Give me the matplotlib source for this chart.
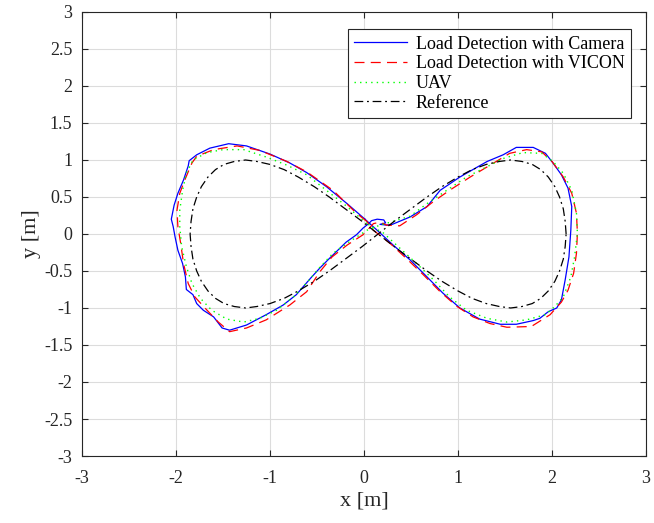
import matplotlib
matplotlib.use("Agg")
import matplotlib.pyplot as plt

plt.rcParams['font.family'] = ['Liberation Serif', 'DejaVu Serif']

# load position estimated from the camera
cam_x = [0.01, -0.18, -0.40, -0.61, -0.79, -1.00, -1.25, -1.44, -1.64, -1.78,
         -1.86, -1.87, -1.92, -1.98, -2.02, -2.05, -2.03, -2.01, -1.98, -1.93,
         -1.90, -1.89, -1.82, -1.78, -1.71, -1.60, -1.51, -1.43, -1.25, -1.04,
         -0.86, -0.72, -0.57, -0.47, -0.36, -0.19, -0.08, -0.01, 0.05, 0.08,
         0.14, 0.21, 0.23, 0.17, 0.24, 0.30, 0.49, 0.67, 0.81, 1.02,
         1.31, 1.48, 1.62, 1.80, 1.93, 2.01, 2.10, 2.17, 2.21, 2.20,
         2.18, 2.14, 2.10, 2.05, 1.96, 1.87, 1.80, 1.62, 1.45, 1.23,
         1.02, 0.84, 0.67, 0.49, 0.31, 0.14, 0.01]
cam_y = [0.20, 0.41, 0.64, 0.83, 0.96, 1.08, 1.19, 1.22, 1.16, 1.07,
         0.99, 0.92, 0.73, 0.55, 0.39, 0.20, 0.10, -0.04, -0.22, -0.40,
         -0.58, -0.75, -0.82, -0.94, -1.03, -1.12, -1.27, -1.30, -1.23, -1.09,
         -0.96, -0.82, -0.60, -0.46, -0.32, -0.11, -0.01, 0.08, 0.14, 0.18,
         0.20, 0.19, 0.15, 0.13, 0.12, 0.13, 0.23, 0.37, 0.59, 0.77,
         0.98, 1.07, 1.17, 1.17, 1.09, 0.96, 0.80, 0.62, 0.37, 0.05,
         -0.31, -0.62, -0.89, -1.00, -1.05, -1.14, -1.17, -1.22, -1.22, -1.15,
         -1.00, -0.80, -0.58, -0.35, -0.15, 0.05, 0.20]

# load position from VICON
vic_x = [0.03, -0.08, -0.33, -0.61, -0.82, -1.11, -1.35, -1.60, -1.78, -1.83,
         -1.90, -1.96, -1.99, -1.98, -1.95, -1.92, -1.87, -1.80, -1.67, -1.55,
         -1.43, -1.25, -1.04, -0.79, -0.61, -0.47, -0.34, -0.18, -0.01, 0.10,
         0.17, 0.24, 0.38, 0.56, 0.74, 0.91, 1.13, 1.38, 1.55, 1.73,
         1.89, 2.00, 2.12, 2.21, 2.26, 2.27, 2.26, 2.23, 2.17, 2.10,
         1.98, 1.78, 1.52, 1.34, 1.16, 0.99, 0.81, 0.63, 0.45, 0.28,
         0.10, 0.03]
vic_y = [0.17, 0.28, 0.59, 0.84, 0.98, 1.13, 1.19, 1.14, 1.05, 0.96,
         0.75, 0.55, 0.32, 0.10, -0.13, -0.40, -0.67, -0.85, -1.03, -1.19,
         -1.32, -1.27, -1.16, -0.96, -0.78, -0.51, -0.31, -0.15, -0.01, 0.14,
         0.16, 0.12, 0.11, 0.26, 0.44, 0.59, 0.77, 0.96, 1.09, 1.14,
         1.11, 0.98, 0.77, 0.55, 0.28, 0.01, -0.26, -0.53, -0.76, -0.92,
         -1.09, -1.25, -1.26, -1.21, -1.12, -0.98, -0.78, -0.55, -0.33, -0.13,
         0.05, 0.17]

# UAV position
uav_x = [0.03, -0.18, -0.40, -0.61, -0.82, -1.04, -1.28, -1.50, -1.67, -1.82,
         -1.89, -1.93, -1.96, -1.96, -1.94, -1.89, -1.83, -1.74, -1.62, -1.46,
         -1.28, -1.11, -0.93, -0.75, -0.61, -0.47, -0.33, -0.15, 0.03, 0.17,
         0.31, 0.49, 0.67, 0.88, 1.09, 1.31, 1.48, 1.69, 1.89, 2.01,
         2.12, 2.21, 2.26, 2.27, 2.24, 2.20, 2.12, 2.03, 1.93, 1.73,
         1.52, 1.31, 1.09, 0.91, 0.74, 0.56, 0.38, 0.21, 0.03]
uav_y = [0.14, 0.37, 0.59, 0.80, 0.93, 1.04, 1.14, 1.14, 1.10, 1.00,
         0.82, 0.59, 0.32, 0.10, -0.17, -0.44, -0.67, -0.87, -1.03, -1.15,
         -1.19, -1.14, -1.03, -0.85, -0.66, -0.45, -0.26, -0.10, 0.05, 0.12,
         0.17, 0.24, 0.41, 0.59, 0.77, 0.91, 1.02, 1.10, 1.09, 0.98,
         0.82, 0.59, 0.28, 0.01, -0.31, -0.58, -0.85, -0.98, -1.09, -1.16,
         -1.19, -1.14, -1.03, -0.85, -0.62, -0.40, -0.19, 0.01, 0.14]

# reference trajectory
ref_x = [2.15, 2.14, 2.12, 2.08, 2.03, 1.96, 1.88, 1.79, 1.68, 1.56,
         1.44, 1.30, 1.15, 1.00, 0.83, 0.67, 0.50, 0.32, 0.15, -0.02,
         -0.20, -0.37, -0.53, -0.70, -0.85, -1.00, -1.14, -1.26, -1.38, -1.49,
         -1.58, -1.66, -1.73, -1.78, -1.82, -1.84, -1.85, -1.84, -1.82, -1.78,
         -1.73, -1.66, -1.58, -1.49, -1.38, -1.26, -1.14, -1.00, -0.85, -0.70,
         -0.53, -0.37, -0.20, -0.02, 0.15, 0.32, 0.50, 0.67, 0.83, 1.00,
         1.15, 1.30, 1.44, 1.56, 1.68, 1.79, 1.88, 1.96, 2.03, 2.08,
         2.12, 2.14, 2.15]
ref_y = [0.00, 0.17, 0.34, 0.50, 0.64, 0.77, 0.87, 0.94, 0.98, 1.00,
         0.98, 0.94, 0.87, 0.77, 0.64, 0.50, 0.34, 0.17, 0.00, -0.17,
         -0.34, -0.50, -0.64, -0.77, -0.87, -0.94, -0.98, -1.00, -0.98, -0.94,
         -0.87, -0.77, -0.64, -0.50, -0.34, -0.17, 0.00, 0.17, 0.34, 0.50,
         0.64, 0.77, 0.87, 0.94, 0.98, 1.00, 0.98, 0.94, 0.87, 0.77,
         0.64, 0.50, 0.34, 0.17, 0.00, -0.17, -0.34, -0.50, -0.64, -0.77,
         -0.87, -0.94, -0.98, -1.00, -0.98, -0.94, -0.87, -0.77, -0.64, -0.50,
         -0.34, -0.17, 0.00]

xticks = [-3, -2, -1, 0, 1, 2, 3]
yticks = [-3, -2.5, -2, -1.5, -1, -0.5, 0, 0.5, 1, 1.5, 2, 2.5, 3]
ytick_labels = ['-3', '-2.5', '-2', '-1.5', '-1', '-0.5', '0', '0.5', '1', '1.5', '2', '2.5', '3']

fig = plt.figure(figsize=(6.54, 5.23), dpi=100)
ax = fig.add_axes([0.1254, 0.1281, 0.8624, 0.849])

ax.plot(cam_x, cam_y, color='blue', lw=0.9, label='Load Detection with Camera')
ax.plot(vic_x, vic_y, color='red', lw=0.9, ls=(0, (8, 5)), label='Load Detection with VICON')
ax.plot(uav_x, uav_y, color='#00ff00', lw=1.0, ls=(0, (1, 3)), label='UAV')
ax.plot(ref_x, ref_y, color='black', lw=0.9, ls=(0, (7, 3, 1.5, 3)), label='Reference')

ax.set_xlim(-3, 3)
ax.set_ylim(-3, 3)
ax.set_xticks(xticks)
ax.set_yticks(yticks)
ax.set_xticklabels([str(v) for v in xticks])
ax.set_yticklabels(ytick_labels)
ax.grid(True, color='#dcdcdc', lw=0.8)
ax.set_axisbelow(True)
ax.tick_params(direction='in', length=4, top=True, right=True, labelsize=13,
               colors='#262626', width=0.8)
ax.tick_params(axis='x', pad=10)
ax.tick_params(axis='y', pad=7)
for s in ax.spines.values():
    s.set_color('#262626')
    s.set_linewidth(0.8)

ax.set_xlabel('x [m]', fontsize=16, color='#262626', labelpad=3)
ax.set_ylabel('y [m]', fontsize=16, color='#262626', labelpad=2)

leg = ax.legend(loc='upper right', bbox_to_anchor=(0.973, 0.961), fontsize=13,
                fancybox=False, edgecolor='#262626', framealpha=1,
                handlelength=2.9, labelspacing=0.15, borderpad=0.35,
                handletextpad=0.5, borderaxespad=0)
leg.get_frame().set_linewidth(0.8)

fig.savefig('out.png', dpi=100)
